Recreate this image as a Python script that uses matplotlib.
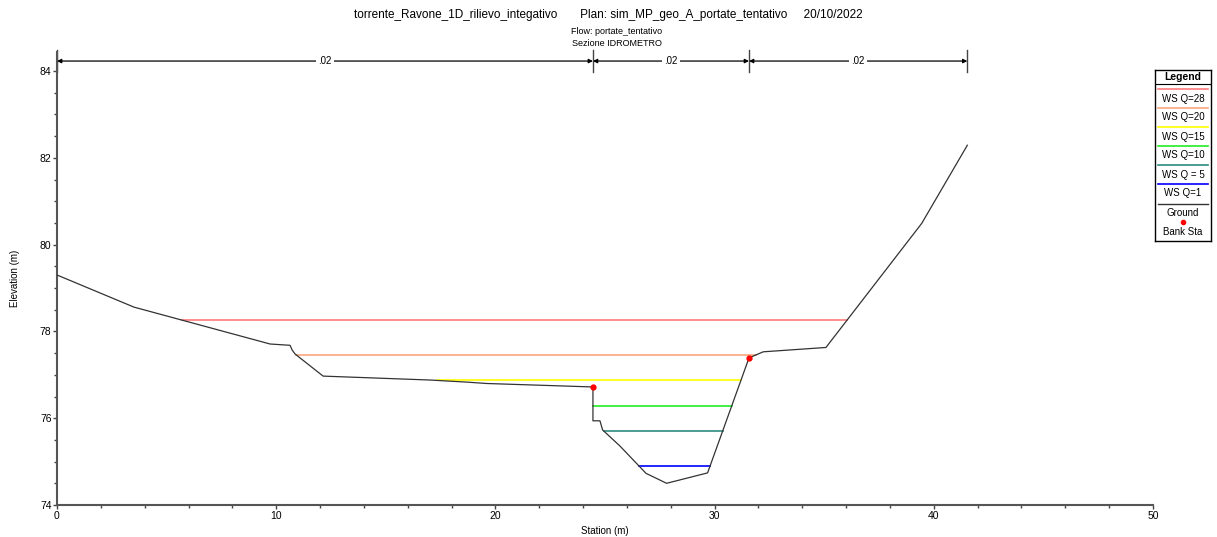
import numpy as np
import matplotlib
matplotlib.use("Agg")
import matplotlib.pyplot as plt
from matplotlib.ticker import MultipleLocator

plt.rcParams['font.family'] = ['Liberation Sans', 'DejaVu Sans']

# ---- data ----
station = [0.0, 3.51, 9.72, 10.63, 10.73, 10.86, 12.14, 17.0, 18.75, 19.6, 24.45,
           24.45, 24.77, 24.89, 25.68, 26.87, 27.81, 29.68, 31.57, 32.22, 35.08,
           39.45, 41.53]
elevation = [79.30, 78.56, 77.71, 77.68, 77.57, 77.48, 76.97, 76.88, 76.83, 76.80, 76.72,
             75.94, 75.94, 75.73, 75.36, 74.73, 74.50, 74.74, 77.39, 77.53, 77.63,
             80.49, 82.29]
bank_sta = [24.45, 31.57]
ws_labels = ["WS Q=28", "WS Q=20", "WS Q=15", "WS Q=10", "WS Q = 5", "WS Q=1"]
ws_elev = [78.26, 77.46, 76.87, 76.27, 75.70, 74.91]
ws_colors = ["#ff7b7b", "#f8a57f", "#ffff00", "#22ee22", "#2e8b80", "#0000ff"]
n_values = [".02", ".02", ".02"]

title = "torrente_Ravone_1D_rilievo_integativo       Plan: sim_MP_geo_A_portate_tentativo     20/10/2022"
sub1 = "Flow: portate_tentativo"
sub2 = "Sezione IDROMETRO"

W, H = 1217, 537
fig = plt.figure(figsize=(W / 100, H / 100), dpi=100)

def fx(p): return p / W
def fy(p): return 1 - p / H

ax = fig.add_axes([fx(57), fy(505), fx(1153) - fx(57), fy(51.5) - fy(505)])
ax.set_xlim(0, 50)
ax.set_ylim(74, 84.45)

st = np.array(station)
el = np.array(elevation)
thal = int(np.argmin(el))

def extent(z):
    i = thal
    while i > 0 and el[i - 1] < z:
        i -= 1
    if i == 0:
        xl = st[0]
    else:
        x0, y0, x1, y1 = st[i - 1], el[i - 1], st[i], el[i]
        xl = x0 + (z - y0) / (y1 - y0) * (x1 - x0) if y1 != y0 else x1
    j = thal
    while j < len(st) - 1 and el[j + 1] < z:
        j += 1
    if j == len(st) - 1:
        xr = st[-1]
    else:
        x0, y0, x1, y1 = st[j], el[j], st[j + 1], el[j + 1]
        xr = x0 + (z - y0) / (y1 - y0) * (x1 - x0)
    return xl, xr

for z, c in zip(ws_elev, ws_colors):
    xl, xr = extent(z)
    ax.plot([xl, xr], [z, z], color=c, lw=1.2, zorder=2)

ax.plot(station, elevation, color="#333333", lw=0.9, zorder=3)
for b in bank_sta:
    idx = [k for k, s in enumerate(station) if s == b][0]
    ax.plot(b, elevation[idx], 'o', color='red', ms=3.5, zorder=4)

# Manning's n arrows
ny = 84.23
bounds = [0.0, bank_sta[0], bank_sta[1], station[-1]]
for k in range(3):
    a, b = bounds[k], bounds[k + 1]
    ax.annotate("", xy=(b, ny), xytext=(a, ny),
                arrowprops=dict(arrowstyle="<|-|>", color="black", lw=0.9,
                                mutation_scale=6, shrinkA=0, shrinkB=0),
                annotation_clip=False)
    ax.text((a + b) / 2, ny, n_values[k], ha="center", va="center", fontsize=7,
            bbox=dict(facecolor="white", edgecolor="none", pad=1.5), zorder=5)
for b in bounds:
    ax.plot([b, b], [83.98, 84.48], color="#444444", lw=1.0, clip_on=False)

for s in ["top", "right"]:
    ax.spines[s].set_visible(False)
for s in ["left", "bottom"]:
    ax.spines[s].set_color("#555555")
    ax.spines[s].set_linewidth(1.5)
ax.xaxis.set_major_locator(MultipleLocator(10))
ax.xaxis.set_minor_locator(MultipleLocator(2))
ax.yaxis.set_major_locator(MultipleLocator(2))
ax.yaxis.set_minor_locator(MultipleLocator(0.5))
ax.tick_params(which="major", length=3, width=1, labelsize=7.5, color="#444444", pad=1)
ax.tick_params(which="minor", length=2, width=1, color="#444444")
ax.set_xlabel("Station (m)", fontsize=7, labelpad=4)
ax.set_ylabel("Elevation (m)", fontsize=7, labelpad=14)

fig.text(0.5, fy(15), title, ha="center", va="center", fontsize=8.5)
fig.text(fx(617), fy(31), sub1, ha="center", va="center", fontsize=6.5)
fig.text(fx(617), fy(44), sub2, ha="center", va="center", fontsize=6.5)

# Legend box (custom layout: line above text)
lx0, lx1, ly0, ly1 = 1155, 1211, 70, 241
lax = fig.add_axes([fx(lx0), fy(ly1), fx(lx1) - fx(lx0), fy(ly0) - fy(ly1)])
lax.set_xlim(lx0, lx1)
lax.set_ylim(ly1, ly0)
lax.set_xticks([]); lax.set_yticks([])
for s in lax.spines.values():
    s.set_linewidth(1.0); s.set_color("black")
lax.text((lx0 + lx1) / 2, 77, "Legend", ha="center", va="center", fontsize=7.5, fontweight="bold")
lax.plot([lx0, lx1], [84, 84], color="black", lw=0.8)
row_y = 89
for lab, c in zip(ws_labels, ws_colors):
    lax.plot([lx0 + 3, lx1 - 3], [row_y, row_y], color=c, lw=1.2)
    lax.text((lx0 + lx1) / 2, row_y + 9.5, lab, ha="center", va="center", fontsize=7)
    row_y += 19
lax.plot([lx0 + 3, lx1 - 3], [row_y + 0.5, row_y + 0.5], color="#333333", lw=1.0)
lax.text((lx0 + lx1) / 2, row_y + 9.5, "Ground", ha="center", va="center", fontsize=7)
lax.plot([(lx0 + lx1) / 2], [row_y + 19], 'o', color="red", ms=3)
lax.text((lx0 + lx1) / 2, row_y + 29, "Bank Sta", ha="center", va="center", fontsize=7)

fig.savefig("out.png", dpi=100)
